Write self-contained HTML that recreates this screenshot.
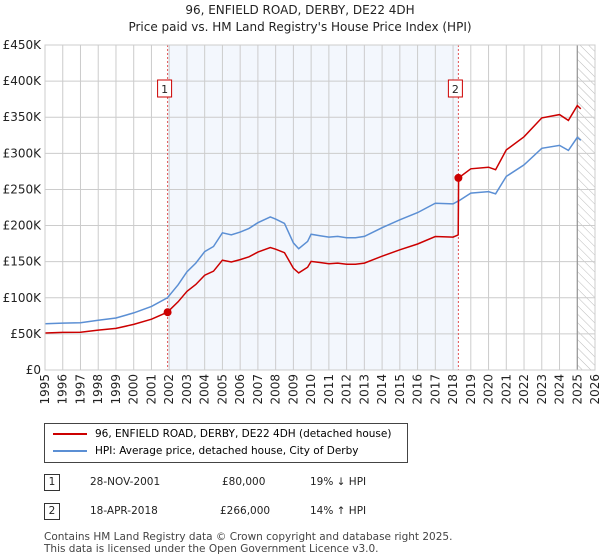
<!DOCTYPE html>
<html><head><meta charset="utf-8"><style>
body{margin:0;background:#fff;font-family:"DejaVu Sans","Liberation Sans",sans-serif;}
#wrap{position:relative;width:600px;height:560px;overflow:hidden;}
.t{position:absolute;font-size:12px;color:#222;white-space:nowrap;}
</style></head><body>
<div id="wrap">
<div class="t" style="left:0;width:600px;text-align:center;top:2px;font-size:12px;line-height:17px;">96, ENFIELD ROAD, DERBY, DE22 4DH<br>Price paid vs. HM Land Registry's House Price Index (HPI)</div>
<svg id="chart" width="600" height="420" style="position:absolute;left:0;top:0;font-family:'DejaVu Sans','Liberation Sans',sans-serif;">
<defs><pattern id="hatch" patternUnits="userSpaceOnUse" width="6" height="6" patternTransform="rotate(-45)"><line x1="0" y1="0" x2="0" y2="6" stroke="#bbb" stroke-width="1"/></pattern></defs>
</svg>
<div style="position:absolute;left:44px;top:423px;width:362px;height:38px;border:1px solid #444;">
<div style="position:absolute;left:8px;top:4px;font-size:10.5px;white-space:nowrap;"><span style="display:inline-block;width:34px;height:2px;background:#cc0000;vertical-align:middle;margin-right:8px"></span>96, ENFIELD ROAD, DERBY, DE22 4DH (detached house)</div>
<div style="position:absolute;left:8px;top:21px;font-size:10.5px;white-space:nowrap;"><span style="display:inline-block;width:34px;height:2px;background:#5b8fd4;vertical-align:middle;margin-right:8px"></span>HPI: Average price, detached house, City of Derby</div>
</div>
<div>
<div class="t" style="left:44px;top:474px;width:14px;height:15px;border:1px solid #333;text-align:center;font-size:10.5px;line-height:15px;">1</div>
<div class="t" style="left:90px;top:476px;font-size:10.5px;">28-NOV-2001</div>
<div class="t" style="left:222px;top:476px;font-size:10.5px;">£80,000</div>
<div class="t" style="left:310px;top:476px;font-size:10.5px;">19% ↓ HPI</div>
</div>
<div>
<div class="t" style="left:44px;top:503px;width:14px;height:15px;border:1px solid #333;text-align:center;font-size:10.5px;line-height:15px;">2</div>
<div class="t" style="left:90px;top:505px;font-size:10.5px;">18-APR-2018</div>
<div class="t" style="left:220px;top:505px;font-size:10.5px;">£266,000</div>
<div class="t" style="left:310px;top:505px;font-size:10.5px;">14% ↑ HPI</div>
</div>
<div class="t" style="left:44px;top:531px;font-size:10.5px;line-height:12px;color:#444;">Contains HM Land Registry data © Crown copyright and database right 2025.<br>This data is licensed under the Open Government Licence v3.0.</div>
</div>
<script>
const yearsHPI=[1995,1996,1997,1998,1999,2000,2001,2001.9,2002.5,2003,2003.5,2004,2004.5,2005,2005.5,2006,2006.5,2007,2007.7,2008,2008.5,2009,2009.3,2009.8,2010,2010.5,2011,2011.5,2012,2012.5,2013,2014,2015,2016,2017,2018,2018.29,2018.31,2019,2020,2020.4,2021,2022,2023,2024,2024.5,2025,2025.2];
const hpiValues=[64,65,65.5,69,72,79,88,100,118,136,148,164,171,190,187,191,196,204,212,209,203,176,168,178,188,186,184,185,183,183,185,197,208,218,231,230,234,234,245,247,244,268,284,307,311,304,322,318];
const priceValues=[51.2,52,52.4,55.2,57.6,63.2,70.4,80,94.4,108.8,118.4,131.2,136.8,152,149.6,152.8,156.8,163.2,169.6,167.2,162.4,140.8,134.4,142.4,150.4,148.8,147.2,148,146.4,146.4,148,157.6,166.4,174.4,184.8,184,187,266,278.6,280.8,277.4,304.7,322.9,349,353.6,345.6,366.1,361.6];
const yTicks=[0,50,100,150,200,250,300,350,400,450];
const yTickLabels=["£0","£50K","£100K","£150K","£200K","£250K","£300K","£350K","£400K","£450K"];
const xTicks=[1995,1996,1997,1998,1999,2000,2001,2002,2003,2004,2005,2006,2007,2008,2009,2010,2011,2012,2013,2014,2015,2016,2017,2018,2019,2020,2021,2022,2023,2024,2025,2026];
const saleYears=[2001.91,2018.3];
const salePrices=[80,266];
const saleLabels=["1","2"];
const L=45,R=595,T=45,B=370;
const X=y=>L+(y-1995)/(2026-1995)*(R-L);
const Y=v=>B-v/450*(B-T);
const svg=document.getElementById('chart');
const NS='http://www.w3.org/2000/svg';
function mk(tag,attrs){const e=document.createElementNS(NS,tag);for(const k in attrs)e.setAttribute(k,attrs[k]);svg.appendChild(e);return e;}
let e;
e=mk('rect',{x:X(saleYears[0]),y:T,width:X(saleYears[1])-X(saleYears[0]),height:B-T,fill:'#eef3fc',opacity:0.7});


e=mk('rect',{x:X(2025.0),y:T,width:R-X(2025.0),height:B-T,fill:'url(#hatch)'});


yTicks.forEach((v,i)=>{
 e=mk('line',{x1:L,x2:R,y1:Y(v),y2:Y(v),stroke:'#ccc','stroke-width':1});
 
 
 e=mk('text',{x:L-4,y:Y(v)+4,'text-anchor':'end','font-size':12,fill:'#222'});
 e.textContent=yTickLabels[i];
 
 
});
xTicks.forEach(yr=>{
 e=mk('line',{x1:X(yr),x2:X(yr),y1:T,y2:B,stroke:'#ccc','stroke-width':1});
 
 
 e=mk('text',{transform:`translate(${X(yr)+4},${B+4}) rotate(-90)`,'text-anchor':'end','font-size':12,fill:'#222'});
 e.textContent=yr;
 
 
});
e=mk('line',{x1:X(2025.0),x2:X(2025.0),y1:T,y2:B,stroke:'#888','stroke-width':1});


saleYears.forEach((yr,i)=>{
 e=mk('line',{x1:X(yr),x2:X(yr),y1:T,y2:B,stroke:'#e05555','stroke-width':1,'stroke-dasharray':'2,2'});
 
 
 e=mk('rect',{x:X(yr)-10,y:80,width:14,height:17,fill:'#fff',stroke:'#cc0000','stroke-width':1});
 
 
 e=mk('text',{x:X(yr)-3,y:93,'text-anchor':'middle','font-size':11,fill:'#222'});
 e.textContent=saleLabels[i];
 
 
});
const pts=(vals)=>yearsHPI.map((yr,i)=>X(yr).toFixed(1)+','+Y(vals[i]).toFixed(1)).join(' ');
e=mk('polyline',{points:pts(hpiValues),fill:'none',stroke:'#5b8fd4','stroke-width':1.5});


e=mk('polyline',{points:pts(priceValues),fill:'none',stroke:'#cc0000','stroke-width':1.5});


saleYears.forEach((yr,i)=>{
 e=mk('circle',{cx:X(yr),cy:Y(salePrices[i]),r:4,fill:'#cc0000'});
 
 
});
e=mk('rect',{x:L,y:T,width:R-L,height:B-T,fill:'none',stroke:'#ccc','stroke-width':1});


</script>
</body></html>
